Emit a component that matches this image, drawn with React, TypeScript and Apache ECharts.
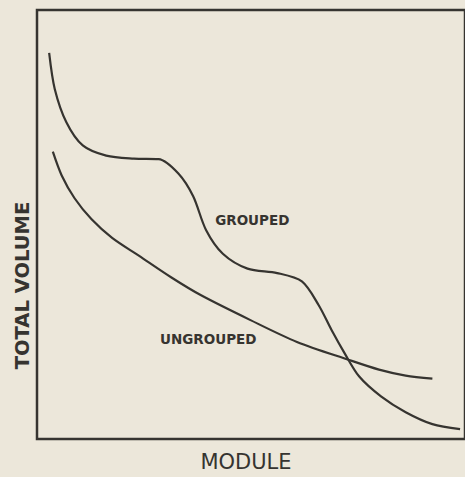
import React, { useEffect, useRef } from "react";
import * as echarts from "echarts";

const groupedX = [2.84, 4.16, 6.86, 10.69, 16.17, 22.63, 28.41, 33.03, 36.49, 39.49, 43.42, 49.19, 56.12, 61.89, 65.82, 68.82, 71.82, 75.29, 80.37, 86.14, 92.38, 98.85];
const groupedY = [90.0, 81.53, 73.83, 68.43, 66.05, 65.36, 65.24, 61.89, 56.58, 48.73, 43.19, 39.72, 38.68, 36.72, 31.18, 25.4, 20.09, 14.55, 9.93, 6.24, 3.46, 2.31];
const ungroupedX = [3.7, 5.77, 8.78, 12.7, 17.55, 23.79, 31.41, 38.34, 49.88, 60.74, 72.75, 79.91, 86.14, 92.38];
const ungroupedY = [66.97, 61.43, 56.12, 51.27, 46.88, 42.73, 37.64, 33.49, 27.71, 22.63, 18.48, 16.17, 14.78, 14.09];
const seriesNames = ["GROUPED", "UNGROUPED"];
const labelPos = [[50.3, 51.0], [40.0, 23.3]];
const xName = "MODULE";
const yName = "TOTAL VOLUME";

const INK = "#363430";
const BG = "#ece7da";

export default function App() {
  const ref = useRef<HTMLDivElement>(null);
  useEffect(() => {
    document.body.style.margin = "0";
    document.body.style.background = BG;
    const chart = echarts.init(ref.current!, null, { renderer: "svg" });
    const mk = (name: string, xs: number[], ys: number[], pos: number[]) => ({
      name,
      type: "line",
      data: xs.map((x, i) => [x, ys[i]]),
      smooth: 0.3,
      showSymbol: false,
      lineStyle: { color: INK, width: 2.2 },
      markPoint: {
        symbol: "circle",
        symbolSize: 0,
        label: {
          show: true,
          formatter: name,
          color: INK,
          fontFamily: "DejaVu Sans",
          fontWeight: "bold",
          fontSize: 13.5,
          position: "inside",
        },
        data: [{ coord: pos }],
      },
    });
    chart.setOption({
      animation: false,
      backgroundColor: BG,
      grid: {
        left: 37,
        top: 10,
        right: -6,
        bottom: 34,
        show: true,
        borderColor: INK,
        borderWidth: 2.5,
        backgroundColor: "transparent",
      },
      xAxis: {
        type: "value",
        min: 0,
        max: 100,
        name: xName,
        nameLocation: "middle",
        nameGap: 12,
        nameTextStyle: { color: INK, fontFamily: "DejaVu Sans", fontSize: 21, verticalAlign: "top", padding: [0, 10, 0, 0] },
        axisLine: { show: false },
        axisTick: { show: false },
        axisLabel: { show: false },
        splitLine: { show: false },
      },
      yAxis: {
        type: "value",
        min: 0,
        max: 100,
        name: yName,
        nameLocation: "middle",
        nameGap: 5,
        nameTextStyle: { color: INK, fontFamily: "DejaVu Sans", fontWeight: "bold", fontSize: 19.5, padding: [0, 122, 0, 0] },
        axisLine: { show: false },
        axisTick: { show: false },
        axisLabel: { show: false },
        splitLine: { show: false },
      },
      series: [
        mk(seriesNames[0], groupedX, groupedY, labelPos[0]),
        mk(seriesNames[1], ungroupedX, ungroupedY, labelPos[1]),
      ],
    });
    return () => chart.dispose();
  }, []);
  return <div ref={ref} style={{ position: "absolute", left: 0, top: 0, width: 465, height: 477 }} />;
}
